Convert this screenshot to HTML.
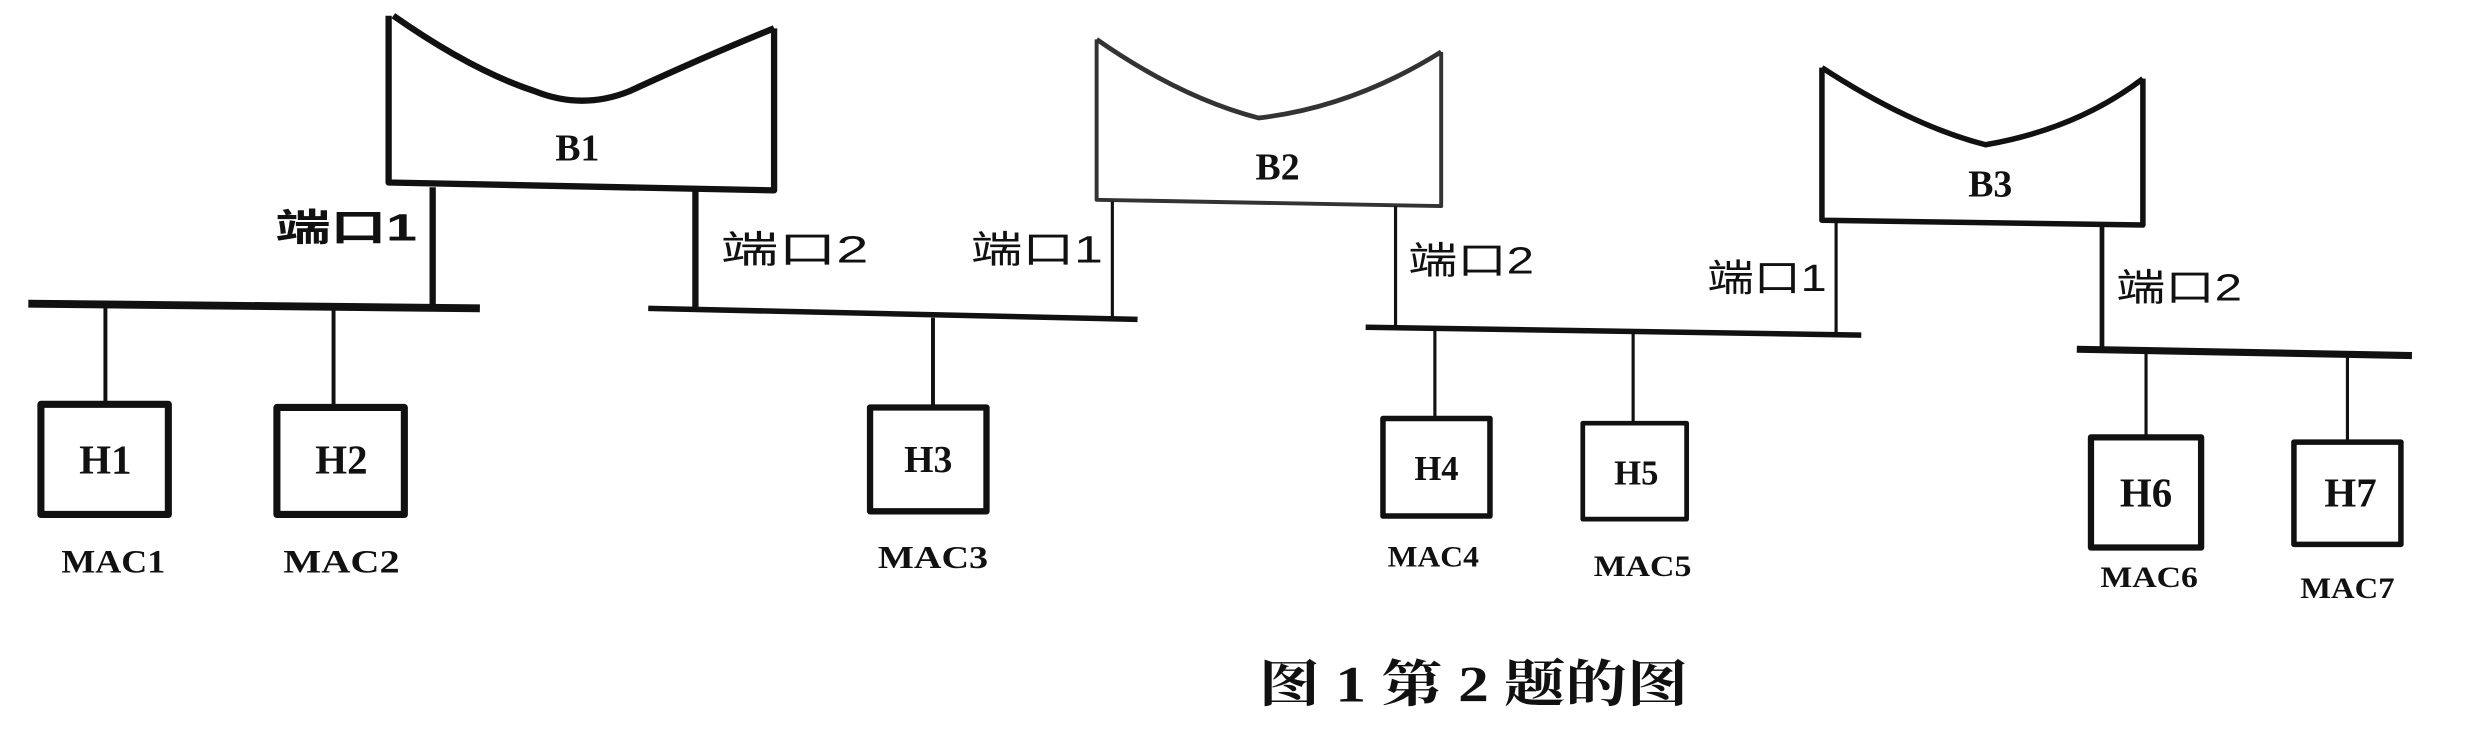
<!DOCTYPE html>
<html><head><meta charset="utf-8"><style>
html,body{margin:0;padding:0;background:#fff;}
svg{display:block;}
text{font-family:"Liberation Serif","Noto Serif CJK SC",serif;fill:#111;}
.c{font-family:"Liberation Sans","Noto Sans CJK SC",sans-serif;}
</style></head><body>
<svg width="2467" height="752" viewBox="0 0 1568 478" preserveAspectRatio="none" xmlns="http://www.w3.org/2000/svg">
<g fill="none" stroke="#111" stroke-linejoin="round">
<!-- B1 -->
<path d="M247 10 L247 116 L492 121 L492 18" stroke-width="4"/>
<path d="M250 10 Q300 45 340 58 Q370 70 400 58 Q450 35 492 18" stroke-width="4"/>
<!-- B2 -->
<path d="M697 25 L697 127 L916 131 L916 33" stroke-width="2.5" stroke="#333"/>
<path d="M697 25 Q750 62 800 75 Q860 68 916 33" stroke-width="3" stroke="#333"/>
<!-- B3 -->
<path d="M1158 43 L1158 140 L1362 143 L1362 50" stroke-width="3.5"/>
<path d="M1158 43 Q1215 80 1262 92 Q1320 82 1362 50" stroke-width="3.5"/>
<!-- port lines -->
<line x1="275" y1="119" x2="275" y2="195" stroke-width="4"/>
<line x1="442" y1="121" x2="442" y2="198" stroke-width="4"/>
<line x1="707" y1="128" x2="707" y2="203" stroke-width="2"/>
<line x1="887" y1="131" x2="887" y2="209" stroke-width="2"/>
<line x1="1167" y1="141" x2="1167" y2="213" stroke-width="2"/>
<line x1="1336" y1="143" x2="1336" y2="222" stroke-width="3"/>
<!-- buses -->
<line x1="18" y1="193" x2="305" y2="196" stroke-width="5"/>
<line x1="412" y1="196" x2="723" y2="203" stroke-width="3.5"/>
<line x1="868" y1="208" x2="1183" y2="213" stroke-width="3.5"/>
<line x1="1320" y1="222" x2="1533" y2="226" stroke-width="4.5"/>
<!-- drops -->
<line x1="67" y1="195" x2="67" y2="256" stroke-width="2.5"/>
<line x1="212" y1="196" x2="212" y2="258" stroke-width="2.5"/>
<line x1="593" y1="202" x2="593" y2="259" stroke-width="2.5"/>
<line x1="912" y1="210" x2="912" y2="266" stroke-width="2"/>
<line x1="1038" y1="212" x2="1038" y2="269" stroke-width="2"/>
<line x1="1364" y1="224" x2="1364" y2="278" stroke-width="2"/>
<line x1="1492" y1="225" x2="1492" y2="281" stroke-width="2"/>
<!-- host boxes -->
<rect x="26" y="257" width="81" height="70" stroke-width="4.5"/>
<rect x="176" y="259" width="81" height="68" stroke-width="4.5"/>
<rect x="553" y="259" width="74" height="66" stroke-width="4"/>
<rect x="879" y="266" width="68" height="62" stroke-width="3.5"/>
<rect x="1006" y="269" width="66" height="61" stroke-width="3"/>
<rect x="1329" y="278" width="70" height="70" stroke-width="4"/>
<rect x="1458" y="281" width="68" height="65" stroke-width="3.5"/>
</g>
<g font-weight="bold" text-anchor="middle">
<text x="367" y="102" font-size="24">B1</text>
<text x="812" y="114" font-size="24">B2</text>
<text x="1265" y="125" font-size="24">B3</text>
<text x="67" y="301" font-size="26">H1</text>
<text x="217" y="301" font-size="26">H2</text>
<text x="590" y="300" font-size="24">H3</text>
<text x="913" y="305" font-size="22">H4</text>
<text x="1040" y="308" font-size="22">H5</text>
<text x="1364" y="322" font-size="26">H6</text>
<text x="1494" y="322" font-size="26">H7</text>
<text x="72" y="364" font-size="21" textLength="66" lengthAdjust="spacingAndGlyphs">MAC1</text>
<text x="217" y="364" font-size="21" textLength="74" lengthAdjust="spacingAndGlyphs">MAC2</text>
<text x="593" y="361" font-size="20" textLength="70" lengthAdjust="spacingAndGlyphs">MAC3</text>
<text x="911" y="360" font-size="19" textLength="58" lengthAdjust="spacingAndGlyphs">MAC4</text>
<text x="1044" y="366" font-size="19" textLength="62" lengthAdjust="spacingAndGlyphs">MAC5</text>
<text x="1366" y="373" font-size="19" textLength="62" lengthAdjust="spacingAndGlyphs">MAC6</text>
<text x="1492" y="380" font-size="19" textLength="60" lengthAdjust="spacingAndGlyphs">MAC7</text>
</g>
<g class="c" font-size="24">
<text class="c" x="175" y="153" font-weight="bold" textLength="90" lengthAdjust="spacingAndGlyphs">端口1</text>
<text class="c" x="458" y="167" textLength="94" lengthAdjust="spacingAndGlyphs">端口2</text>
<text class="c" x="617" y="167" textLength="84" lengthAdjust="spacingAndGlyphs">端口1</text>
<text class="c" x="895" y="174" textLength="80" lengthAdjust="spacingAndGlyphs">端口2</text>
<text class="c" x="1085" y="185" textLength="76" lengthAdjust="spacingAndGlyphs">端口1</text>
<text class="c" x="1345" y="191" textLength="80" lengthAdjust="spacingAndGlyphs">端口2</text>
</g>
<text x="800" y="446" font-size="32" font-weight="bold" font-family="'Noto Serif CJK SC','Liberation Serif',serif" textLength="273" lengthAdjust="spacingAndGlyphs">图 1 第 2 题的图</text>
</svg>
</body></html>
